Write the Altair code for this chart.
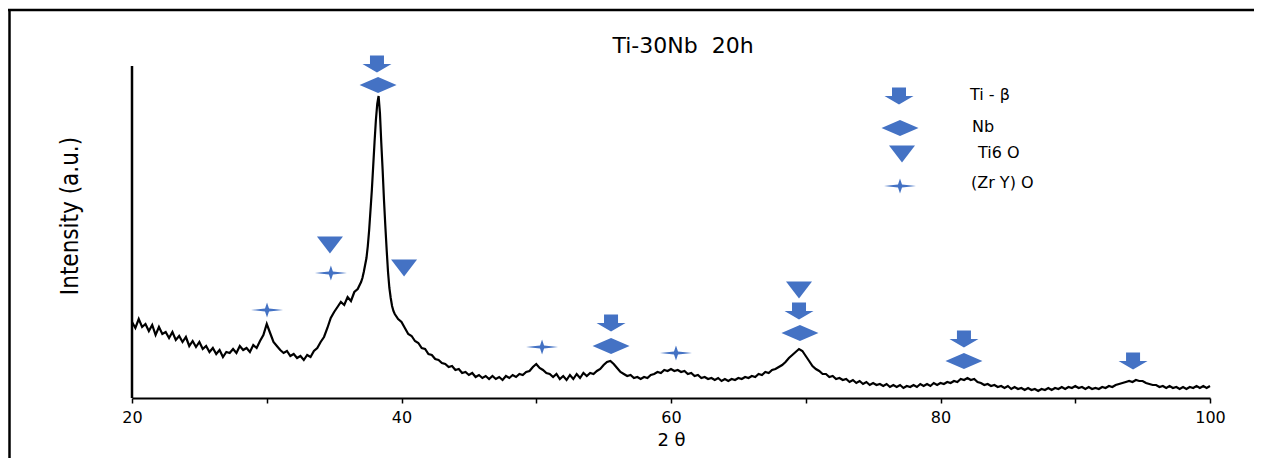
import altair as alt
import numpy as np
import pandas as pd

# ---------------- XRD pattern (intensity in a.u.) -------------
# segment A: 2θ = 20.00 ... 36.75, step 0.25
SEG_A_START, SEG_A_STEP = 20.0, 0.25
SEG_A = [
    76, 70, 79, 71,   # 20
    74, 67, 73, 63,   # 21
    71, 64, 66, 60,   # 22
    66, 58, 62, 56,   # 23
    61, 52, 57, 51,   # 24
    56, 49, 52, 46,   # 25
    50, 44, 48, 41,   # 26
    46, 45, 49, 45,   # 27
    52, 48, 50, 46,   # 28
    53, 50, 57, 63,   # 29
    74, 65, 56, 52,   # 30
    48, 45, 47, 42,   # 31
    44, 40, 42, 38,   # 32
    43, 41, 47, 50,   # 33
    56, 61, 70, 80,   # 34
    86, 91, 96, 93,   # 35
    101, 97, 106, 109,  # 36
]
# segment B: main peak, 2θ = 37.0 ... 39.4, step 0.1
SEG_B_START, SEG_B_STEP = 37.0, 0.1
SEG_B = [116, 120, 126, 133, 140, 152, 168, 188, 208, 232,
         256, 278, 294, 302, 285, 255, 228, 198, 172, 148,
         126, 110, 100, 92, 87]
# segment C: 2θ = 39.50 ... 100.00, step 0.25
SEG_C_START, SEG_C_STEP = 39.5, 0.25
SEG_C = [
    84, 79,           # 39.5
    76, 70, 64, 62,   # 40
    57, 55, 50, 49,   # 41
    44, 43, 39, 38,   # 42
    35, 34, 31, 32,   # 43
    28, 29, 25, 26,   # 44
    23, 25, 21, 23,   # 45
    20, 22, 19, 22,   # 46
    19, 21, 18, 22,   # 47
    20, 23, 21, 24,   # 48
    23, 26, 27, 31,   # 49
    34, 30, 28, 25,   # 50
    24, 21, 24, 19,   # 51
    22, 18, 23, 19,   # 52
    24, 20, 25, 22,   # 53
    25, 24, 27, 29,   # 54
    33, 36, 37, 34,   # 55
    30, 26, 24, 22,   # 56
    23, 20, 21, 19,   # 57
    21, 20, 23, 24,   # 58
    26, 25, 28, 27,   # 59
    29, 27, 28, 26,   # 60
    27, 24, 25, 22,   # 61
    23, 20, 21, 19,   # 62
    20, 18, 20, 17,   # 63
    19, 17, 19, 18,   # 64
    20, 19, 21, 20,   # 65
    22, 21, 24, 23,   # 66
    26, 25, 28, 29,   # 67
    31, 33, 36, 40,   # 68
    43, 46, 49, 47,   # 69
    42, 37, 32, 29,   # 70
    27, 24, 24, 21,   # 71
    22, 19, 20, 18,   # 72
    19, 16, 18, 15,   # 73
    17, 14, 16, 13,   # 74
    15, 13, 14, 12,   # 75
    14, 11, 13, 11,   # 76
    13, 10, 12, 11,   # 77
    13, 11, 14, 12,   # 78
    14, 12, 15, 13,   # 79
    15, 14, 16, 15,   # 80
    17, 16, 19, 18,   # 81
    20, 18, 19, 16,   # 82
    15, 13, 14, 12,   # 83
    13, 11, 12, 10,   # 84
    12, 9, 11, 9,     # 85
    10, 8, 10, 8,     # 86
    9, 7, 9, 8,       # 87
    10, 8, 10, 9,     # 88
    11, 9, 11, 10,    # 89
    12, 10, 11, 9,    # 90
    11, 9, 10, 9,     # 91
    11, 10, 12, 11,   # 92
    13, 14, 15, 16,   # 93
    17, 16, 18, 17,   # 94
    17, 15, 14, 13,   # 95
    13, 11, 12, 10,   # 96
    12, 10, 11, 9,    # 97
    11, 9, 11, 10,    # 98
    12, 10, 12, 10,   # 99
    12,               # 100
]

# ---------------- phase markers (2θ, height in the same units) ----------------------
TI_BETA_THETA = [38.18, 55.55, 69.50, 81.74, 94.29]
TI_BETA_Y = [334, 75, 87, 59, 37]
NB_THETA = [38.26, 55.55, 69.57, 81.74]
NB_Y = [313, 52, 65, 37]
TI6O_THETA = [34.69, 40.19, 69.50]
TI6O_Y = [153, 130, 108]
ZRYO_THETA = [30.02, 34.76, 50.43, 60.37]
ZRYO_Y = [88, 125, 51, 45]

LEGEND_LABELS = ["Ti - β", "Nb", "Ti6 O", "(Zr Y) O"]
TITLE = "Ti-30Nb\u00a0 20h"
X_TITLE = "2 θ"
Y_TITLE = "Intensity (a.u.)"
X_TICKS = [20, 30, 40, 50, 60, 70, 80, 90, 100]

# ---------------- build table ------------------------------------------------------
def seg(start, step, vals):
    return [round(start + step * i, 3) for i in range(len(vals))]

theta = seg(SEG_A_START, SEG_A_STEP, SEG_A) + seg(SEG_B_START, SEG_B_STEP, SEG_B) + seg(SEG_C_START, SEG_C_STEP, SEG_C)
inten = SEG_A + SEG_B + SEG_C
df = pd.DataFrame({"theta": theta, "I": inten})

W, H = 1078, 368
BLUE = "#4472C4"
FONT = "DejaVu Sans"

xenc = alt.X(
    "theta:Q",
    scale=alt.Scale(domain=[20, 100], nice=False, zero=False),
    axis=alt.Axis(
        values=X_TICKS,
        labelExpr="datum.value % 20 === 0 ? datum.label : ''",
        tickSize=5, tickColor="black", tickWidth=1.5,
        domainColor="black", domainWidth=2,
        labelFont=FONT, labelFontSize=16, labelColor="black", labelPadding=6,
        labelFlush=False, grid=False,
        title=X_TITLE, titleFont=FONT, titleFontSize=18, titleFontWeight="normal",
        titleColor="black", titlePadding=6,
    ),
)
yenc = alt.Y("I:Q", scale=alt.Scale(domain=[0, H], nice=False, zero=False), axis=None)

line = alt.Chart(df).mark_line(color="black", strokeWidth=2.2).encode(x=xenc, y=yenc)

# marker shapes (unit = sqrt(size)/2 px)
ARROW = "M-0.35,-0.425L0.35,-0.425L0.35,0L0.725,0L0,0.425L-0.725,0L-0.35,0Z"
DIAMOND = "M-0.925,0L0,-0.4L0.925,0L0,0.4Z"
TRI = "M-0.65,-0.425L0.65,-0.425L0,0.425Z"
STAR = "M-0.8,0L-0.1,-0.08L0,-0.375L0.1,-0.08L0.8,0L0.1,0.08L0,0.375L-0.1,0.08Z"
SIZE = 1600

def markers(th, yy, shape):
    d = pd.DataFrame({"theta": th, "I": yy})
    return alt.Chart(d).mark_point(shape=shape, filled=True, size=SIZE, color=BLUE, opacity=1).encode(x=xenc, y=yenc)

layers = [line,
          markers(TI_BETA_THETA, TI_BETA_Y, ARROW),
          markers(NB_THETA, NB_Y, DIAMOND),
          markers(TI6O_THETA, TI6O_Y, TRI),
          markers(ZRYO_THETA, ZRYO_Y, STAR)]

one = pd.DataFrame({"k": [0]})

# y axis line
layers.append(alt.Chart(one).mark_rule(color="black", strokeWidth=2.5).encode(
    x=alt.value(0), y=alt.value(36), y2=alt.value(H)))
# frame lines (top and left)
layers.append(alt.Chart(one).mark_rule(color="black", strokeWidth=2.5).encode(
    x=alt.value(-124), x2=alt.value(1122), y=alt.value(-20)))
layers.append(alt.Chart(one).mark_rule(color="black", strokeWidth=2.5).encode(
    x=alt.value(-122.5), y=alt.value(-20), y2=alt.value(430)))

# title
layers.append(alt.Chart(pd.DataFrame({"t": [TITLE]})).mark_text(
    font=FONT, fontSize=22, color="black", align="center", baseline="middle").encode(
    text="t:N", x=alt.value(551), y=alt.value(16)))
# y title
layers.append(alt.Chart(pd.DataFrame({"t": [Y_TITLE]})).mark_text(
    font="Liberation Sans Narrow, DejaVu Sans Condensed, Liberation Sans, sans-serif",
    fontSize=24, color="black", align="center",
    baseline="middle", angle=270).encode(
    text="t:N", x=alt.value(-61), y=alt.value(186)))

# legend
LEG_SHAPES = [ARROW, DIAMOND, TRI, STAR]
LEG_MY = [66, 98, 124, 156]
LEG_MX = [767, 768, 770, 768]
LEG_TY = [65, 97, 123, 153]
LEG_TX = [838, 840, 846, 839]
for lab, shp, mx, my, tx, ty in zip(LEGEND_LABELS, LEG_SHAPES, LEG_MX, LEG_MY, LEG_TX, LEG_TY):
    layers.append(alt.Chart(one).mark_point(shape=shp, filled=True, size=SIZE, color=BLUE, opacity=1).encode(
        x=alt.value(mx), y=alt.value(my)))
    layers.append(alt.Chart(pd.DataFrame({"t": [lab]})).mark_text(
        font=FONT, fontSize=16, color="black", align="left", baseline="middle").encode(
        text="t:N", x=alt.value(tx), y=alt.value(ty)))

chart = alt.layer(*layers).properties(
    width=W, height=H,
    background="white",
    padding={"left": 124, "top": 22, "right": 44, "bottom": 60},
    autosize=alt.AutoSizeParams(type="none"),
).configure_view(stroke=None)

chart.save("out.html", embed_options={"renderer": "svg", "actions": False})
